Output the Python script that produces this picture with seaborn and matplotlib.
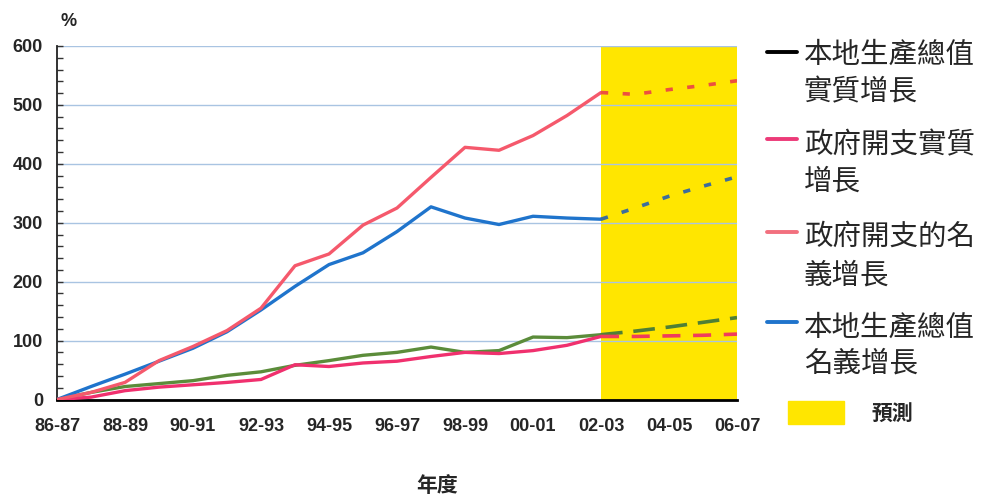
import pandas as pd
import numpy as np
import matplotlib
matplotlib.use('Agg')
import matplotlib.pyplot as plt
from matplotlib.lines import Line2D
from matplotlib.patches import Rectangle
from matplotlib.ticker import MultipleLocator
import seaborn as sns

# fiscal years, 86-87 .. 06-07 (02-03 onwards is the forecast band)
years = ['86-87', '87-88', '88-89', '89-90', '90-91', '91-92', '92-93',
         '93-94', '94-95', '95-96', '96-97', '97-98', '98-99', '99-00',
         '00-01', '01-02', '02-03', '03-04', '04-05', '05-06', '06-07']
fc_start = 16

# actual values (86-87 .. 02-03), % growth since 86-87
gov_nominal = [0, 12, 29, 66, 90, 117, 155, 227, 247, 296, 325, 377, 428, 423, 448, 482, 521]
gdp_nominal = [0, 22, 43, 65, 87, 115, 152, 192, 229, 249, 285, 327, 308, 297, 311, 308, 306]
gdp_real = [0, 12, 22, 27, 32, 41, 47, 58, 66, 75, 80, 89, 80, 83, 106, 105, 110]
gov_real = [0, 4, 15, 21, 25, 29, 34, 59, 56, 62, 65, 73, 80, 78, 83, 92, 107]

# forecast values (02-03 .. 06-07)
gov_nominal_fc = [521, 518, 526, 533, 541]
gdp_nominal_fc = [306, 325, 345, 362, 378]
gdp_real_fc = [110, 116, 123, 131, 139]
gov_real_fc = [107, 107, 108, 109, 111]

legend_labels = [['本地生產總值', '實質增長'],
                 ['政府開支實質', '增長'],
                 ['政府開支的名', '義增長'],
                 ['本地生產總值', '名義增長']]
legend_colors = ['black', '#ec3a78', '#f2707e', '#1f74cc']

sns.set_style('white')
plt.rcParams['font.family'] = ['Liberation Sans', 'Noto Sans CJK TC']

W, H = 984, 495
fig = plt.figure(figsize=(W / 100, H / 100), dpi=100)
ax = fig.add_axes([57 / W, 95.5 / H, 680 / W, 353.5 / H])


def fx(x):
    return x / W


def fy(y):
    return 1 - y / H


x_act = np.arange(fc_start + 1)
x_fc = np.arange(fc_start, len(years))

series = [
    (gdp_real, gdp_real_fc, '#5b8c3a', '#4f7f35', (6, 3)),
    (gov_real, gov_real_fc, '#f0306e', '#f03c5c', (5, 3.5)),
    (gdp_nominal, gdp_nominal_fc, '#1f74cc', '#3c6d9c', (2, 4)),
    (gov_nominal, gov_nominal_fc, '#f5596c', '#ec5040', (2, 4)),
]
for act, fc, col, fccol, dash in series:
    sns.lineplot(x=x_act, y=act, color=col, linewidth=2.4, ax=ax, zorder=3)
    sns.lineplot(x=x_fc, y=fc, color=fccol, linewidth=2.6, ax=ax, zorder=3,
                 linestyle=(0, dash))

ax.axvspan(fc_start, len(years) - 1, color='#ffe600', zorder=0.2, lw=0)

ax.set_xlim(0, len(years) - 1)
ax.set_ylim(0, 600)
ax.set_xticks(np.arange(len(years)))
ax.set_xticklabels([y if i % 2 == 0 else '' for i, y in enumerate(years)],
                   fontsize=13, fontweight='bold')
ax.set_yticks(np.arange(0, 601, 100))
ax.set_yticklabels([str(v) for v in range(0, 601, 100)], fontsize=13, fontweight='bold')
ax.yaxis.set_minor_locator(MultipleLocator(20))
ax.tick_params(axis='x', direction='in', length=5, width=1, pad=13, color='#333333')
ax.tick_params(axis='y', which='both', direction='in', left=True, length=4, width=1,
               pad=10, color='#333333')
ax.grid(axis='y', color='#a9c4e2', linewidth=1)
ax.grid(axis='x', visible=False)
ax.set_axisbelow(True)
for s in ['top', 'right']:
    ax.spines[s].set_visible(False)
ax.spines['left'].set_color('#222222')
ax.spines['left'].set_linewidth(1.3)
ax.spines['bottom'].set_color('black')
ax.spines['bottom'].set_linewidth(2)
ax.set_xlabel('')
ax.set_ylabel('')

fig.text(fx(69), fy(22), '%', fontsize=13, fontweight='bold', ha='center', va='center')
fig.text(fx(437), fy(485), '年度', fontsize=15, fontweight='bold', ha='center', va='center',
         family=['Noto Sans CJK TC'])

# legend drawn by hand so the handle sits on the first text line
handle_y = [52, 139, 232, 322]
text_y = [(55, 92), (145, 181), (237, 275), (328, 363)]
for lab, col, hy, (t1, t2) in zip(legend_labels, legend_colors, handle_y, text_y):
    fig.add_artist(Line2D([fx(767), fx(797)], [fy(hy), fy(hy)], color=col, lw=2.8,
                          transform=fig.transFigure))
    fig.text(fx(804), fy(t1), lab[0], fontsize=20.5, ha='left', va='center',
             family=['Noto Sans CJK TC'])
    fig.text(fx(804), fy(t2), lab[1], fontsize=20.5, ha='left', va='center',
             family=['Noto Sans CJK TC'])

fig.add_artist(Rectangle((fx(788), fy(424)), fx(56), 23 / H, color='#ffe600',
                         transform=fig.transFigure))
fig.text(fx(872), fy(413), '預測', fontsize=15, fontweight='bold', ha='left', va='center',
         family=['Noto Sans CJK TC'])

fig.savefig('out.png', dpi=100, facecolor='white')
